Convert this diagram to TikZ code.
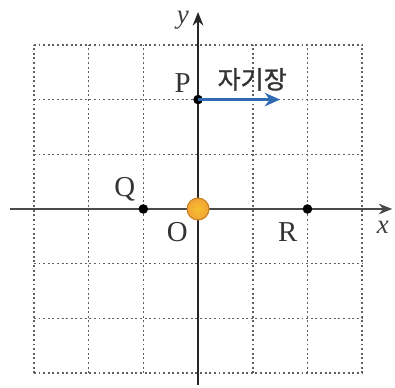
\documentclass[tikz,border=0pt]{standalone}
\usepackage{fontspec}
\newfontfamily\krfont[FakeBold=1.2]{Noto Sans CJK KR}
\setmainfont{Liberation Serif}
\usetikzlibrary{arrows.meta}
\definecolor{gridc}{HTML}{606060}
\definecolor{axisc}{HTML}{4A4A4A}
\definecolor{fieldc}{HTML}{2F6AB3}
\definecolor{ballc}{HTML}{F2A43A}
\definecolor{balledge}{HTML}{C9801C}
\tikzset{
  gridline/.style={draw=gridc, line width=0.8pt, dash pattern=on 1pt off 1.4pt},
  axisline/.style={draw=axisc, line width=1.2pt, -{Stealth[length=7pt,width=5.5pt]}},
  ptdot/.style={circle, fill=black, inner sep=0pt, minimum size=5pt},
  lbl/.style={font=\fontsize{15}{17}\selectfont, text=black!80, inner sep=0pt},
  axlbl/.style={font=\fontsize{14}{16}\selectfont\itshape, text=black!75, inner sep=0pt},
  fieldarrow/.style={draw=fieldc, line width=1.8pt, -{Stealth[length=8pt,width=7pt]}},
  ball/.style={circle, shading=radial, inner color=ballc!70!yellow, outer color=ballc, draw=balledge, line width=0.6pt, inner sep=0pt, minimum size=0.4cm}
}
\begin{document}
\begin{tikzpicture}
\useasboundingbox (-3.62,-3.254) rectangle (3.60,3.82);
% grid
\foreach \i in {-3,...,3} {
  \draw[gridline] (\i,-3) -- (\i,3);
  \draw[gridline] (-3,\i) -- (3,\i);
}
% axes
\coordinate (xs) at (-3.44,0);
\coordinate (xe) at (3.55,0);
\coordinate (ys) at (0,-3.22);
\coordinate (ye) at (0,3.6);
\draw[axisline] (xs) -- (xe);
\draw[axisline, draw=black!85] (ys) -- (ye);
\node[axlbl] (xl) at (3.38,-0.33) {x};
\node[axlbl] (yl) at (-0.28,3.45) {y};
% points
\node[ptdot] (P) at (0,2) {};
\node[ptdot] (Q) at (-1,0) {};
\node[ptdot] (R) at (2,0) {};
\node[ball] (O) at (0,0) {};
\node[lbl] (Pl) at (-0.28,2.3) {P};
\node[lbl] (Ql) at (-1.34,0.36) {Q};
\node[lbl] (Ol) at (-0.38,-0.42) {O};
\node[lbl] (Rl) at (1.64,-0.42) {R};
% field arrow
\coordinate (Fe) at (1.5,2);
\draw[fieldarrow] (P.center) -- (Fe);
\node[font=\krfont\fontsize{13}{15}\selectfont, text=black!80, inner sep=0pt] (F) at (0.99,2.37) {자기장};
\end{tikzpicture}
\end{document}
